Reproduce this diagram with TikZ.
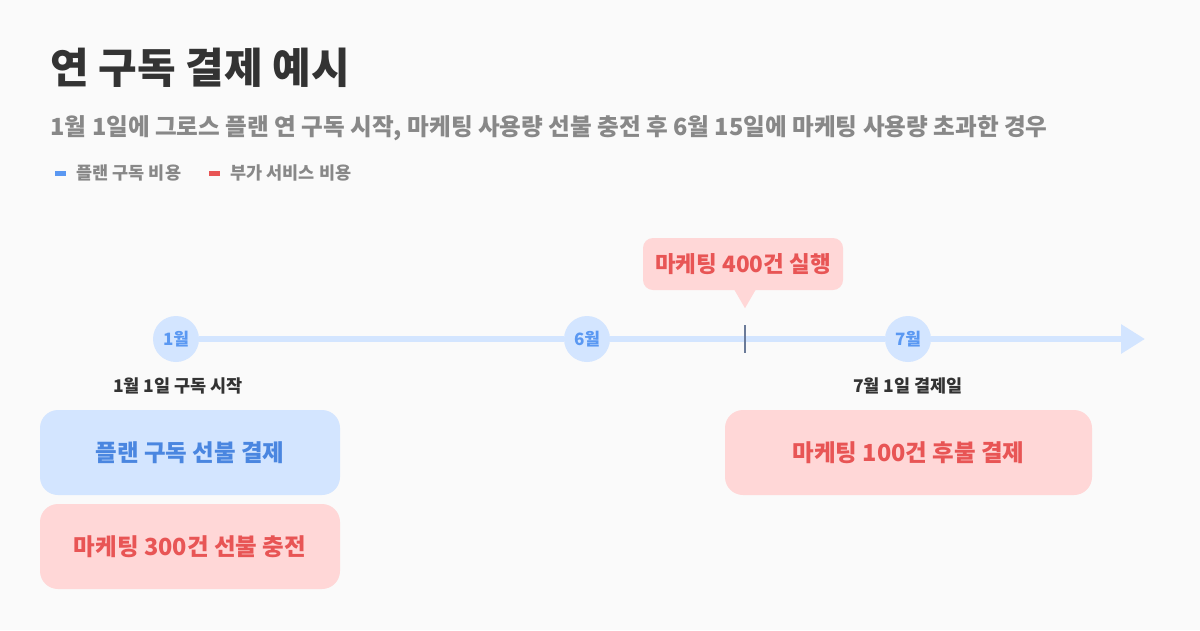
\documentclass[tikz,border=0pt]{standalone}
\usepackage{fontspec}
\setmainfont{Noto Sans CJK KR}
\usetikzlibrary{arrows.meta}
\definecolor{bgc}{HTML}{FAFAFA}
\definecolor{inkc}{HTML}{333333}
\definecolor{greyc}{HTML}{888888}
\definecolor{bluec}{HTML}{5A98F2}
\definecolor{blued}{HTML}{4A86E0}
\definecolor{bluel}{HTML}{D3E5FF}
\definecolor{redc}{HTML}{E85555}
\definecolor{redl}{HTML}{FFD7D7}
\definecolor{tickc}{HTML}{6B7B99}
\tikzset{
  month/.style={circle, fill=bluel, minimum size=46pt, inner sep=0pt, text=bluec, font=\fontsize{17}{17}\selectfont\bfseries},
  datelbl/.style={text=inkc, font=\fontsize{17.5}{17.5}\selectfont\bfseries},
  planbox/.style={rounded corners=18pt, fill=bluel, minimum width=300pt, minimum height=85pt, text=blued, font=\fontsize{23.5}{23.5}\selectfont\bfseries},
  extrabox/.style={rounded corners=18pt, fill=redl, minimum width=300pt, minimum height=85pt, text=redc, font=\fontsize{23.5}{23.5}\selectfont\bfseries},
  legendtxt/.style={anchor=west, text=greyc, font=\fontsize{17.5}{17.5}\selectfont\bfseries},
}

\begin{document}
\begin{tikzpicture}[x=1pt, y=-1pt]
			%%%%% START %%%%%
			
			\fill[bgc] (0, 0) rectangle (1200, 630);
			\useasboundingbox (0, 0) rectangle (1200, 630);
			
			\node[anchor=west, text=inkc, font=\fontsize{42}{42}\selectfont\bfseries] (title) at (47, 68) {연 구독 결제 예시};
			\node[anchor=west, text=greyc, font=\fontsize{23.6}{23.6}\selectfont\bfseries] (sub) at (47, 128) {1월 1일에 그로스 플랜 연 구독 시작, 마케팅 사용량 선불 충전 후 6월 15일에 마케팅 사용량 초과한 경우};
			
			\fill[bluec] (55, 171) rectangle (66, 176);
			\node[legendtxt] (lgplan) at (73, 173) {플랜 구독 비용};
			\fill[redc] (209, 171) rectangle (220, 176);
			\node[legendtxt] (lgextra) at (227, 173) {부가 서비스 비용};
			
			\node[month] (m1) at (176, 339) {1월};
			\node[month] (m6) at (587, 339) {6월};
			\node[month] (m7) at (908, 339) {7월};
			\coordinate (tend) at (1145, 339);
			\draw[line width=6pt, bluel, -{Triangle[length=24pt, width=28pt]}] (m1) -- (m6) -- (m7) -- (tend);
			
			\coordinate (tick) at (745, 339);
			\draw[line width=1.6pt, tickc] (tick) ++(0, -14) -- ++(0, 28);
			
			\node[rounded corners=10pt, fill=redl, minimum width=200pt, minimum height=52pt, text=redc, font=\fontsize{22.5}{22.5}\selectfont\bfseries] (run) at (743, 264) {마케팅 400건 실행};
			\fill[redl] ([xshift=-9pt, yshift=1pt]run.south) -- ([xshift=13pt, yshift=1pt]run.south) -- ([xshift=2pt, yshift=-18pt]run.south) -- cycle;
			
			\node[datelbl] (d1) at (178, 386) {1월 1일 구독 시작};
			\node[datelbl] (d7) at (908, 386) {7월 1일 결제일};
			
			\node[planbox] (plan) at (190, 452.5) {플랜 구독 선불 결제};
			\node[extrabox] (pre) at (190, 546.5) {마케팅 300건 선불 충전};
			\node[extrabox, minimum width=367pt] (post) at (908.5, 452.5) {마케팅 100건 후불 결제};
			
			%%%%% END %%%%%
\end{tikzpicture}
\end{document}
